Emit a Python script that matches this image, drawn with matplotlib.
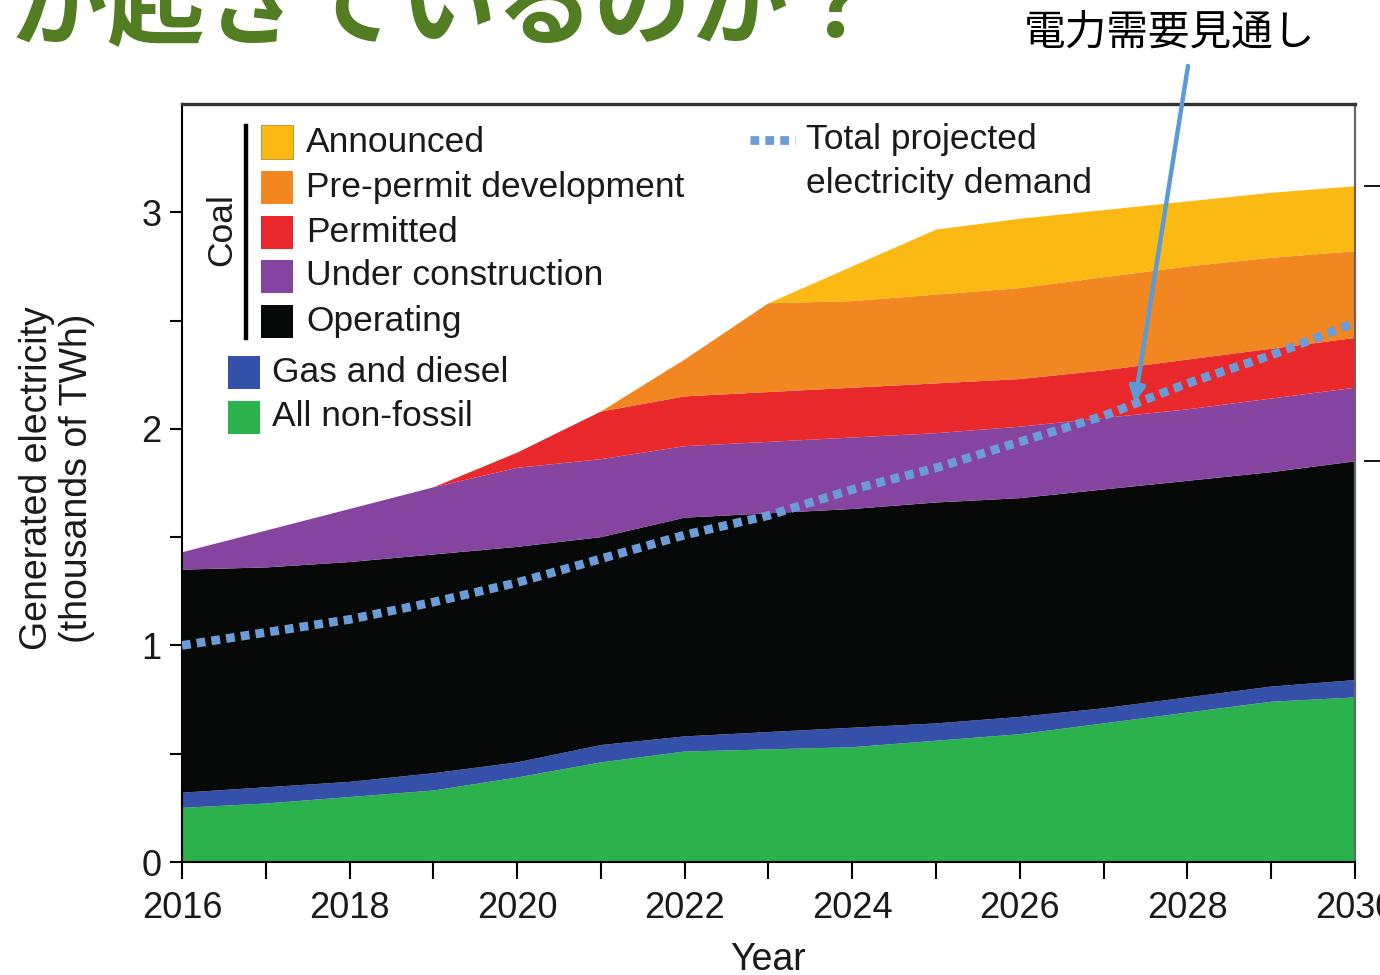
import numpy as np
import matplotlib
matplotlib.use("Agg")
import matplotlib.pyplot as plt
from matplotlib.patches import Rectangle
from matplotlib.lines import Line2D

plt.rcParams['font.family'] = ['Liberation Sans', 'DejaVu Sans']

# generation by source, thousands of TWh (stacked from the bottom up)
years = np.arange(2016, 2031)
non_fossil = [0.25, 0.27, 0.30, 0.33, 0.39, 0.46, 0.51, 0.52, 0.53, 0.56, 0.59, 0.64, 0.69, 0.74, 0.76]
gas_diesel = [0.07, 0.075, 0.07, 0.08, 0.07, 0.08, 0.07, 0.08, 0.09, 0.08, 0.08, 0.07, 0.07, 0.07, 0.08]
coal_operating = [1.03, 1.015, 1.015, 1.01, 0.995, 0.96, 1.01, 1.01, 1.01, 1.02, 1.01, 1.01, 1.00, 0.99, 1.01]
coal_construction = [0.08, 0.17, 0.245, 0.31, 0.365, 0.36, 0.33, 0.33, 0.33, 0.32, 0.33, 0.33, 0.33, 0.34, 0.34]
coal_permitted = [0, 0, 0, 0, 0.07, 0.22, 0.23, 0.23, 0.23, 0.23, 0.22, 0.22, 0.23, 0.23, 0.23]
coal_prepermit = [0, 0, 0, 0, 0, 0, 0.17, 0.41, 0.40, 0.41, 0.42, 0.43, 0.43, 0.42, 0.40]
coal_announced = [0, 0, 0, 0, 0, 0, 0, 0, 0.16, 0.30, 0.32, 0.31, 0.30, 0.30, 0.30]
demand = [1.00, 1.06, 1.12, 1.20, 1.29, 1.40, 1.51, 1.60, 1.72, 1.82, 1.94, 2.06, 2.21, 2.34, 2.49]

coal_labels = ['Announced', 'Pre-permit development', 'Permitted', 'Under construction', 'Operating']
other_labels = ['Gas and diesel', 'All non-fossil']

c_green = '#2bb24c'
c_blue = '#3550a8'
c_black = '#070808'
c_purple = '#8544a0'
c_red = '#e8282a'
c_orange = '#f28620'
c_yellow = '#fdb913'
c_demand = '#6c9bd8'
c_text = '#1a1a1a'

W, H = 1380, 975


def fx(x):
    return x / W


def fy(y):
    return 1 - y / H


fig = plt.figure(figsize=(13.8, 9.75), dpi=100)
ax = fig.add_axes([fx(182), fy(862), fx(1355) - fx(182), fy(104) - fy(862)])

layers = [non_fossil, gas_diesel, coal_operating, coal_construction,
          coal_permitted, coal_prepermit, coal_announced]
colors = [c_green, c_blue, c_black, c_purple, c_red, c_orange, c_yellow]
ax.stackplot(years, *layers, colors=colors, linewidth=0)

dot_style = dict(color=c_demand, lw=6.3, linestyle=(0, (1.0, 0.7)), dash_capstyle='butt')
ax.plot(years, demand, zorder=5, **dot_style)

ax.set_xlim(2016, 2030)
ax.set_ylim(0, 3.5)

ax.set_xticks(years)
ax.set_xticklabels([str(y) if y % 2 == 0 else '' for y in years])
yt = np.arange(0, 3.01, 0.5)
ax.set_yticks(yt)
ax.set_yticklabels([str(int(v)) if v == int(v) else '' for v in yt])
ax.tick_params(axis='x', direction='out', length=12, width=1.5, pad=9,
               labelsize=26, labelcolor=c_text)
ax.tick_params(axis='y', direction='out', length=9, width=1.5, pad=6,
               labelsize=26, labelcolor=c_text)

for side in ['left', 'bottom']:
    ax.spines[side].set_linewidth(1.5)
    ax.spines[side].set_color('black')
ax.spines['top'].set_linewidth(2.4)
ax.spines['top'].set_color('#333333')
ax.spines['right'].set_linewidth(1.6)
ax.spines['right'].set_color('#666666')

# short markers outside the right edge: operating total and grand total in 2030
totals = np.cumsum(np.array(layers), axis=0)
for level in [totals[2][-1], totals[-1][-1]]:
    ax.plot([2030.12, 2030.32], [level, level], color='black', lw=1.3, clip_on=False)

# axis labels
fig.text(fx(57), fy(478), 'Generated electricity\n(thousands of TWh)', rotation=90,
         ha='center', va='center', multialignment='center', fontsize=27,
         color=c_text, linespacing=1.15)
fig.text(fx(768), fy(960), 'Year', ha='center', va='center', fontsize=27, color=c_text)

# legend: coal stages
row_y = [142, 187, 232, 276, 321]
coal_colors = [c_yellow, c_orange, c_red, c_purple, c_black]
sq_w, sq_h = 32, 33
for lab, col, y in zip(coal_labels, coal_colors, row_y):
    fig.patches.append(Rectangle((fx(261), fy(y + sq_h / 2)), sq_w / W, sq_h / H,
                                 transform=fig.transFigure, facecolor=col,
                                 edgecolor='#b08a30' if col == c_yellow else 'none', lw=0.6))
    fig.text(fx(306), fy(y), lab, ha='left', va='center', fontsize=25.5, color=c_text)
fig.lines.append(Line2D([fx(246), fx(246)], [fy(126), fy(338)], transform=fig.transFigure,
                        color='black', lw=3.2))
fig.text(fx(222), fy(230), 'Coal', rotation=90, ha='center', va='center',
         fontsize=25.5, color=c_text)

# legend: other sources
for lab, col, y in zip(other_labels, [c_blue, c_green], [372, 417]):
    fig.patches.append(Rectangle((fx(228), fy(y + sq_h / 2)), sq_w / W, sq_h / H,
                                 transform=fig.transFigure, facecolor=col, edgecolor='none'))
    fig.text(fx(272), fy(y), lab, ha='left', va='center', fontsize=25.5, color=c_text)

# legend: demand line
fig.lines.append(Line2D([fx(750), fx(795)], [fy(140), fy(140)], transform=fig.transFigure,
                        **dot_style))
fig.text(fx(806), fy(140), 'Total projected', ha='left', va='center', fontsize=25.5, color=c_text)
fig.text(fx(806), fy(183), 'electricity demand', ha='left', va='center', fontsize=25.5, color=c_text)

# slide heading (cut off by the top edge) and callout
fig.text(fx(10), fy(8), 'が起きているのか？', ha='left', va='center', fontsize=70,
         fontweight='bold', color='#537d23', family=['Noto Sans CJK JP', 'DejaVu Sans'])
fig.text(fx(1170), fy(33), '電力需要見通し', ha='center', va='center', fontsize=30,
         color='black', family=['Noto Sans CJK JP', 'DejaVu Sans'])
ax.annotate('', xy=(2027.37, 2.12), xycoords='data',
            xytext=(fx(1188), fy(66)), textcoords='figure fraction',
            arrowprops=dict(arrowstyle='-|>', color='#5b9bd5', lw=3.2,
                            mutation_scale=24, shrinkA=0, shrinkB=0),
            annotation_clip=False)

fig.savefig('out.png', dpi=100)
